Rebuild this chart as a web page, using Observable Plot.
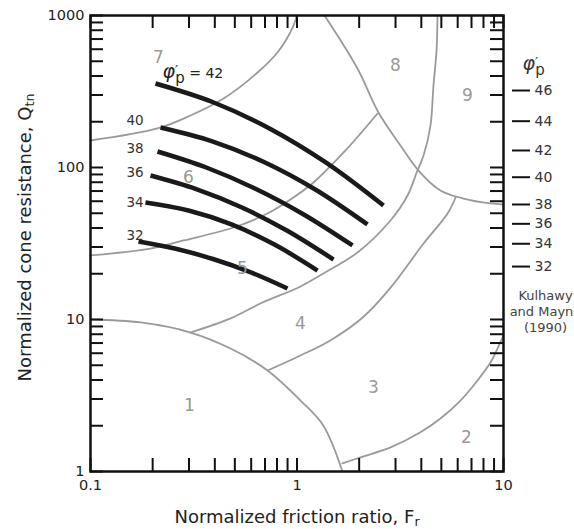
<!DOCTYPE html>
<html><head><meta charset="utf-8">
<script src="https://cdn.jsdelivr.net/npm/d3@7"></script>
<script src="https://cdn.jsdelivr.net/npm/@observablehq/plot@0.6"></script>
<style>body{margin:0;background:#fff;overflow:hidden}</style>
</head><body><div id="chart"></div>
<script>
// Zone boundary curves (Fr, Qtn)
const zone1Fr = [0.1, 0.175, 0.305, 0.477, 0.72, 1.04, 1.34, 1.66];
const zone1Q  = [10, 9.56, 8.21, 6.44, 4.62, 2.93, 2.01, 1.0];
const zone2Fr = [1.66, 2.03, 2.84, 3.96, 4.95, 6.19, 7.16, 8.65, 9.35, 10];
const zone2Q  = [1.13, 1.24, 1.44, 1.81, 2.23, 2.93, 3.68, 5.21, 6.44, 7.85];
const zone3Fr = [0.72, 1.04, 1.45, 2.08, 2.84, 4.1, 5.36, 5.86];
const zone3Q  = [4.62, 5.80, 7.28, 10.3, 16.2, 31.6, 49.8, 63.5];
const zone4Fr = [0.305, 0.477, 0.665, 1.04, 1.343, 1.963, 2.836, 3.43, 3.83, 4.10, 4.43, 4.58, 4.74, 4.79];
const zone4Q  = [8.21, 10.16, 12.74, 16.5, 20.1, 27.6, 44.8, 65.4, 95.5, 119.9, 188.9, 346.4, 588.6, 1000];
const zone5Fr = [0.1, 0.195, 0.282, 0.493, 0.719, 0.930, 1.202, 1.717, 2.454];
const zone5Q  = [26.4, 29.3, 33.1, 40.3, 49.8, 61.6, 79.7, 129.4, 226.6];
const zone6Fr = [0.1, 0.211, 0.305, 0.441, 0.644, 0.804, 0.962, 0.995];
const zone6Q  = [150.5, 180.6, 219.8, 284.4, 421.7, 571, 859, 1000];
const zone8Fr = [1.359, 1.963, 2.481, 3.17, 3.877, 4.95, 6.40, 8.65, 10];
const zone8Q  = [1000, 448, 230, 139.6, 95.5, 70.6, 62.5, 58.0, 57.1];

// Friction angle contours
const phi42Fr = [0.2064, 0.3899, 0.7357, 1.3895, 2.623];
const phi42Q  = [357, 269.7, 180.6, 107.1, 56.2];
const phi40Fr = [0.2183, 0.3888, 0.692, 1.232, 2.194];
const phi40Q  = [183.4, 148.8, 108.7, 71.4, 42.2];
const phi38Fr = [0.2111, 0.3636, 0.626, 1.078, 1.857];
const phi38Q  = [127.4, 100, 72.8, 49.1, 30.7];
const phi36Fr = [0.1953, 0.3251, 0.5416, 0.902, 1.503];
const phi36Q  = [88.6, 72.2, 54.6, 38.2, 24.8];
const phi34Fr = [0.1846, 0.2983, 0.4818, 0.778, 1.257];
const phi34Q  = [58.8, 52.1, 42.2, 31.1, 21.0];
const phi32Fr = [0.1708, 0.2587, 0.3919, 0.5937, 0.8995];
const phi32Q  = [32.6, 29.2, 25.0, 20.5, 16.0];

// Labels
const curveLabels = ["40", "38", "36", "34", "32"];
const curveLabelFr = [0.1643, 0.1643, 0.1643, 0.1643, 0.1643];
const curveLabelQ = [203.8, 133.4, 92.7, 58.8, 35.7];
const zoneNames = ["1", "2", "3", "4", "5", "6", "7", "8", "9"];
const zoneFr = [0.3016, 6.62, 2.346, 1.04, 0.5446, 0.2983, 0.2134, 3.0, 6.69];
const zoneQ  = [2.72, 1.674, 3.57, 9.41, 21.65, 85.9, 529, 469, 297.7];
const phiScaleLabels = [46, 44, 42, 40, 38, 36, 34, 32];
const phiScaleQ = [321, 201.7, 129.4, 86.3, 57.1, 42.6, 31.5, 22.3];
const xTickLabels = [0.1, 1, 10];
const yTickLabels = [1, 10, 100, 1000];

const pts = (fr, q) => fr.map((f, i) => ({Fr: f, Q: q[i]}));
const xTicks = [];
for (let e = -1; e < 1; e++) for (let m = 1; m < 10; m++) xTicks.push(m * 10 ** e);
xTicks.push(10);
const yTicks = [];
for (let e = 0; e < 3; e++) for (let m = 1; m < 10; m++) yTicks.push(m * 10 ** e);
yTicks.push(1000);

const W = 574, H = 529, mL = 90, mR = 71, mT = 15, mB = 58;
const iw = W - mL - mR, ih = H - mT - mB, tl = 13;
const gray = "#9a9a9a", dark = "#1a1a1a";

const zoneLines = [[zone1Fr, zone1Q], [zone2Fr, zone2Q], [zone3Fr, zone3Q], [zone4Fr, zone4Q],
  [zone5Fr, zone5Q], [zone6Fr, zone6Q], [zone8Fr, zone8Q]];
const phiLines = [[phi42Fr, phi42Q], [phi40Fr, phi40Q], [phi38Fr, phi38Q], [phi36Fr, phi36Q],
  [phi34Fr, phi34Q], [phi32Fr, phi32Q]];

const plot = Plot.plot({
  width: W, height: H, marginLeft: mL, marginRight: mR, marginTop: mT, marginBottom: mB,
  style: {fontFamily: "DejaVu Sans", fontSize: "14px", background: "white", overflow: "hidden"},
  x: {type: "log", domain: [0.1, 10], axis: null},
  y: {type: "log", domain: [1, 1000], axis: null},
  marks: [
    ...zoneLines.map(([f, q]) => Plot.line(pts(f, q), {x: "Fr", y: "Q", stroke: gray, strokeWidth: 1.8, curve: "catmull-rom"})),
    ...phiLines.map(([f, q]) => Plot.line(pts(f, q), {x: "Fr", y: "Q", stroke: dark, strokeWidth: 4.5, curve: "catmull-rom", strokeLinecap: "butt"})),
    Plot.tickX(xTicks, {x: d => d, insetTop: ih - tl, stroke: "#111", strokeWidth: 2}),
    Plot.tickX(xTicks, {x: d => d, insetBottom: ih - tl, stroke: "#111", strokeWidth: 2}),
    Plot.tickY(yTicks, {y: d => d, insetRight: iw - tl, stroke: "#111", strokeWidth: 2}),
    Plot.tickY(yTicks, {y: d => d, insetLeft: iw - tl, stroke: "#111", strokeWidth: 2}),
    Plot.frame({stroke: "#111", strokeWidth: 2.5}),
    Plot.tickY(phiScaleQ, {y: d => d, insetLeft: iw + 9, insetRight: -27, stroke: "#111", strokeWidth: 2}),
    Plot.text(phiScaleQ, {y: d => d, frameAnchor: "right", dx: 31, textAnchor: "start", fontSize: 14, fill: "#333",
      text: (d, i) => String(phiScaleLabels[i])}),
    Plot.text(yTickLabels, {y: d => d, frameAnchor: "left", dx: -6, textAnchor: "end", fontSize: 14.5, fill: "#222", text: d => String(d)}),
    Plot.text(xTickLabels, {x: d => d, frameAnchor: "bottom", dy: 8, lineAnchor: "top", fontSize: 14.5, fill: "#222", text: d => String(d)}),
    Plot.text(zoneNames.map((n, i) => ({n, Fr: zoneFr[i], Q: zoneQ[i]})), {x: "Fr", y: "Q", text: "n", fill: "#999", fontSize: 17}),
    Plot.text(curveLabels.map((n, i) => ({n, Fr: curveLabelFr[i], Q: curveLabelQ[i]})), {x: "Fr", y: "Q", text: "n", fill: "#333", fontSize: 13.5}),
    Plot.text(["PHI42"], {x: () => 0.2232, y: () => 415, text: d => d, textAnchor: "start", fontSize: 14, fill: "#222"}),
    Plot.text(["PHIHEAD"], {frameAnchor: "top-right", dx: 19, dy: 45, text: d => d, textAnchor: "start", fontSize: 14, fill: "#333"}),
    Plot.text(["Kulhawy\nand Mayne\n(1990)"], {frameAnchor: "top-right", dx: 42, dy: 273, lineAnchor: "top", textAnchor: "middle",
      lineHeight: 1.23, fontSize: 13, fill: "#444", text: d => d}),
    Plot.text(["Normalized friction ratio, F"], {x: () => 1, frameAnchor: "bottom", dy: 51, lineAnchor: "bottom", textAnchor: "middle", fontSize: 18, fill: "#222", text: d => d}),
    Plot.text(["Normalized cone resistance, Q"], {frameAnchor: "left", dx: -60, dy: -6, rotate: -90, lineAnchor: "bottom", textAnchor: "middle", fontSize: 18, fill: "#222", text: d => d})
  ]
});

const svgNS = "http://www.w3.org/2000/svg";
function ts(parent, txt, attrs) {
  const t = document.createElementNS(svgNS, "tspan");
  t.textContent = txt;
  for (const k in attrs) t.setAttribute(k, attrs[k]);
  parent.appendChild(t);
  return t;
}
plot.querySelectorAll("text").forEach(t => {
  const s = t.textContent;
  if (s === "Normalized friction ratio, F") {
    ts(t, "r", {"font-size": "12.6px", dy: "0.3em"});
  } else if (s === "Normalized cone resistance, Q") {
    ts(t, "tn", {"font-size": "12.6px", dy: "0.3em"});
  } else if (s === "PHI42") {
    t.textContent = "";
    ts(t, "φ", {"font-style": "italic", "font-size": "19px"});
    ts(t, "′", {"font-size": "14px", dy: "-3"});
    ts(t, "p", {"font-size": "15px", dx: "-3", dy: "8"});
    ts(t, " = 42", {"font-size": "14px", dy: "-5"});
  } else if (s === "PHIHEAD") {
    t.textContent = "";
    ts(t, "φ", {"font-style": "italic", "font-size": "19px"});
    ts(t, "′", {"font-size": "14px", dy: "-3"});
    ts(t, "p", {"font-size": "15px", dx: "-3", dy: "8"});
  }
});
document.getElementById("chart").appendChild(plot);
</script>
</body></html>
